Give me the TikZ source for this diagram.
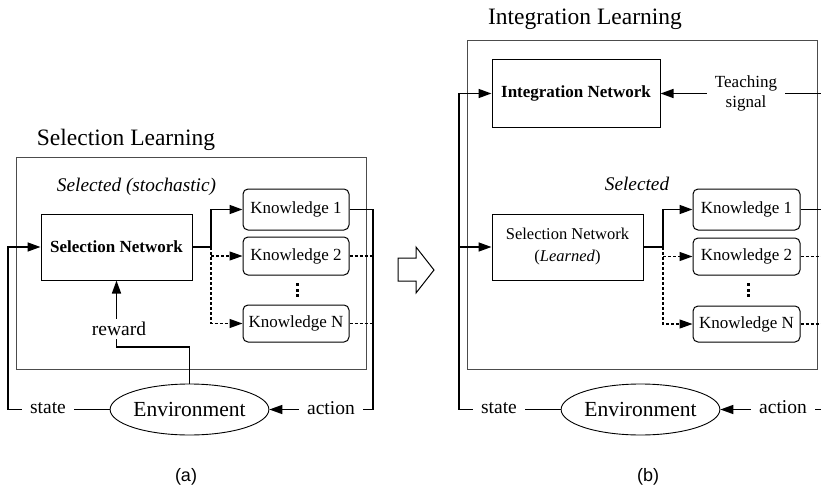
\documentclass[tikz,border=0pt]{standalone}
\usepackage{fontspec}
\setmainfont{Liberation Serif}
\newfontfamily\capfont{Liberation Sans}
\usetikzlibrary{shapes.geometric,arrows.meta,calc}

\begin{document}
\begin{tikzpicture}[x=1pt,y=-1pt,
  frame/.style={draw=black!70,line width=0.9pt},
  netbox/.style={draw,line width=1pt,minimum width=151pt,minimum height=66pt,inner sep=0pt,
    align=center,font=\rmfamily\fontsize{17}{22}\selectfont},
  kbox/.style={draw,rounded corners=5pt,line width=1pt,minimum width=106pt,inner sep=0pt,
    font=\rmfamily\fontsize{17}{20}\selectfont},
  envshape/.style={ellipse,draw,line width=0.9pt,minimum width=157pt,minimum height=51pt,
    inner sep=0pt,font=\rmfamily\fontsize{21.5}{24}\selectfont},
  lbl/.style={fill=white,inner xsep=8pt,inner ysep=3pt,font=\rmfamily\fontsize{19.5}{22}\selectfont},
  conn/.style={line width=1.5pt},
  dconn/.style={line width=1.2pt,dash pattern=on 3pt off 2pt},
  arr/.style={-{Triangle[length=13pt,width=9pt]}},
  title/.style={anchor=base,font=\rmfamily\fontsize{23.5}{26}\selectfont},
  note/.style={anchor=base,font=\rmfamily\itshape\fontsize{19.3}{22}\selectfont},
  subcap/.style={anchor=base,font=\capfont\fontsize{18}{20}\selectfont},
  dotmark/.style={fill=black}
]
\useasboundingbox (0,0) rectangle (821,492);
\clip (0,0) rectangle (821,492);

% ---------------- (a) Selection Learning ----------------
\node[title] (ta) at (126,145) {Selection Learning};
\draw[frame] (16,157) rectangle (366,369);
\node[note] (sela) at (136.5,191) {Selected (stochastic)};

\node[netbox,font=\rmfamily\bfseries\fontsize{17}{22}\selectfont] (sna) at (116.5,247) {Selection Network};
\node[kbox,minimum height=41pt] (k1a) at (296,209.5) {Knowledge 1};
\node[kbox,minimum height=38pt] (k2a) at (296,256) {Knowledge 2};
\node[kbox,minimum height=37pt] (kna) at (296,323.5) {Knowledge N};
\node[envshape] (enva) at (189.5,409.5) {Environment};
% vertical ellipsis between Knowledge 2 and Knowledge N
\foreach \yy in {284.5,290,295.5} \fill[dotmark] (295.5,\yy-1.5) rectangle +(3,3);

\coordinate (ba) at (211,247);
\coordinate (la) at (8,247);
\coordinate (ra) at (373,409.5);
\coordinate (rwa) at (116.5,347);

% selection outputs
\draw[conn,arr] (sna.east) -- (ba) |- (k1a.west);
\draw[dconn,arr] (ba) |- (kna.west);
\draw[dconn,arr] (ba |- k2a.west) -- (k2a.west);
% actions back to the environment
\draw[conn] (k1a.east) -| (ra);
\draw[dconn] (k2a.east) -- (k2a.east -| ra);
\draw[dconn] (kna.east) -- (kna.east -| ra);
\draw[conn,arr] (ra) -- (enva.east);
% state and reward
\draw[conn,arr] (enva.west) -| (la) -- (sna.west);
\draw[conn,arr] (enva.north) |- (rwa) -- (sna.south);

\node[lbl] (sta) at (48,408) {state};
\node[lbl] (aca) at (331,408) {action};
\node[lbl] (rewa) at (119,329) {reward};

\node[subcap] (capa) at (186,481) {(a)};

% ---------------- transition arrow ----------------
\draw[line width=1pt,line join=miter] (398,258) -- (416,258) -- (416,247) -- (434,270)
  -- (416,293) -- (416,281) -- (398,281) -- cycle;

% ---------------- (b) Integration Learning ----------------
\node[title] (tb) at (585,25) {Integration Learning};
\draw[frame] (467,40) rectangle (817,369);

\node[netbox,minimum width=168pt,minimum height=67pt,font=\rmfamily\bfseries\fontsize{17}{22}\selectfont]
  (inb) at (576,93.5) {Integration Network};
\node[note] (selb) at (637,190) {Selected};
\node[netbox,font=\rmfamily\fontsize{16.5}{22}\selectfont] (snb) at (567.5,247)
  {Selection Network\\(\textit{Learned})};
\node[kbox,minimum height=41pt,minimum width=107pt] (k1b) at (746.5,209.5) {Knowledge 1};
\node[kbox,minimum height=37pt,minimum width=107pt] (k2b) at (746.5,256.5) {Knowledge 2};
\node[kbox,minimum height=36pt,minimum width=107pt] (knb) at (746.5,324) {Knowledge N};
\node[envshape] (envb) at (640.5,409.5) {Environment};
\foreach \yy in {284.5,290,295.5} \fill[dotmark] (746.5,\yy-1.5) rectangle +(3,3);

\coordinate (bb) at (663,247);
\coordinate (lb) at (459,93.5);
\coordinate (rb) at (830,409.5);
\coordinate (tsrc) at (830,93.5);

% selection outputs
\draw[conn,arr] (snb.east) -- (bb) |- (k1b.west);
\draw[dconn,arr] (bb) |- (knb.west);
\draw[dconn,arr] (bb |- k2b.west) -- (k2b.west);
% actions back to the environment
\draw[conn] (k1b.east) -| (rb);
\draw[dconn] (k2b.east) -- (k2b.east -| rb);
\draw[dconn] (knb.east) -- (knb.east -| rb);
\draw[conn,arr] (rb) -- (envb.east);
% state to both networks
\draw[conn,arr] (envb.west) -| (lb) -- (inb.west);
\draw[conn,arr] (lb |- snb.west) -- (snb.west);
% teaching signal
\draw[conn,arr] (tsrc) -- (inb.east);

\node[lbl] (stb) at (499,408) {state};
\node[lbl] (acb) at (783,407) {action};
\node[lbl,align=center,font=\rmfamily\fontsize{17}{20}\selectfont] (teach) at (746,93) {Teaching\\signal};

\node[subcap] (capb) at (648,481) {(b)};
\end{tikzpicture}
\end{document}
